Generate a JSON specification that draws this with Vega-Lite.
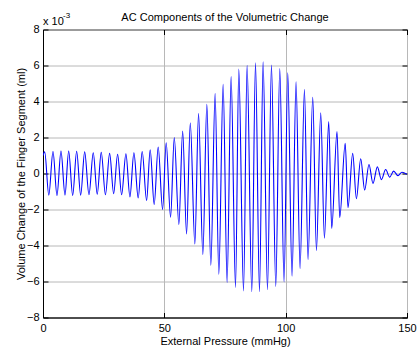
{
  "$schema": "https://vega.github.io/schema/vega-lite/v6.json",
  "autosize": {"type": "none"},
  "width": 364,
  "height": 288,
  "padding": {"left": 43, "top": 29.5, "right": 13, "bottom": 31.5},
  "background": "white",
  "config": {
    "font": "Liberation Sans",
    "view": {"stroke": "black", "strokeWidth": 1},
    "axis": {
      "domainColor": "black",
      "domainWidth": 1,
      "tickColor": "black",
      "tickWidth": 1,
      "labelColor": "black",
      "labelFont": "Liberation Sans",
      "labelFontSize": 11,
      "titleFont": "Liberation Sans",
      "titleFontSize": 11,
      "titleFontWeight": "normal",
      "titleColor": "black",
      "gridColor": "#b8b8b8",
      "gridWidth": 1
    }
  },
  "title": {
    "text": "AC Components of the Volumetric Change",
    "font": "Liberation Sans",
    "fontSize": 11,
    "fontWeight": "normal",
    "color": "black",
    "anchor": "middle",
    "frame": "group",
    "offset": -11
  },
  "data": {
    "values": [
      {"p": 0, "v": 1.0},
      {"p": 0.70, "v": 1.2},
      {"p": 2.39, "v": -1.2},
      {"p": 4.12, "v": 1.22},
      {"p": 5.76, "v": -1.22},
      {"p": 7.41, "v": 1.25},
      {"p": 9.06, "v": -1.2},
      {"p": 10.58, "v": 1.25},
      {"p": 12.23, "v": -1.22},
      {"p": 13.87, "v": 1.24},
      {"p": 15.52, "v": -1.2},
      {"p": 17.17, "v": 1.2},
      {"p": 18.94, "v": -1.18},
      {"p": 20.71, "v": 1.15},
      {"p": 22.35, "v": -1.15},
      {"p": 24.0, "v": 1.18},
      {"p": 25.73, "v": -1.18},
      {"p": 27.46, "v": 1.12},
      {"p": 29.11, "v": -1.12},
      {"p": 30.75, "v": 1.07},
      {"p": 32.4, "v": -1.18},
      {"p": 34.17, "v": 1.1},
      {"p": 35.82, "v": -1.3},
      {"p": 37.46, "v": 1.15},
      {"p": 39.23, "v": -1.36},
      {"p": 40.88, "v": 1.22},
      {"p": 42.69, "v": -1.5},
      {"p": 44.17, "v": 1.32},
      {"p": 45.82, "v": -1.72},
      {"p": 47.47, "v": 1.47},
      {"p": 49.28, "v": -2.0},
      {"p": 50.76, "v": 1.71},
      {"p": 52.57, "v": -2.43},
      {"p": 54.1, "v": 2.0},
      {"p": 55.99, "v": -2.84},
      {"p": 57.55, "v": 2.36},
      {"p": 59.16, "v": -3.36},
      {"p": 60.7, "v": 2.82},
      {"p": 62.58, "v": -3.92},
      {"p": 64.1, "v": 3.33},
      {"p": 65.87, "v": -4.5},
      {"p": 67.52, "v": 3.84},
      {"p": 69.16, "v": -5.1},
      {"p": 70.93, "v": 4.44},
      {"p": 72.46, "v": -5.6},
      {"p": 74.23, "v": 4.95},
      {"p": 75.87, "v": -6.05},
      {"p": 77.52, "v": 5.38},
      {"p": 79.33, "v": -6.33},
      {"p": 80.69, "v": 5.8},
      {"p": 82.63, "v": -6.52},
      {"p": 84.11, "v": 6.01},
      {"p": 86.04, "v": -6.56},
      {"p": 87.57, "v": 6.15},
      {"p": 89.21, "v": -6.56},
      {"p": 90.7, "v": 6.2},
      {"p": 92.51, "v": -6.45},
      {"p": 94.15, "v": 6.03},
      {"p": 95.92, "v": -6.27},
      {"p": 97.57, "v": 5.83},
      {"p": 99.34, "v": -6.02},
      {"p": 100.86, "v": 5.6},
      {"p": 102.63, "v": -5.7},
      {"p": 104.28, "v": 5.1},
      {"p": 105.93, "v": -5.28},
      {"p": 107.74, "v": 4.67},
      {"p": 109.22, "v": -4.78},
      {"p": 111.16, "v": 4.24},
      {"p": 112.68, "v": -4.28},
      {"p": 114.45, "v": 3.37},
      {"p": 115.97, "v": -3.6},
      {"p": 117.74, "v": 2.88},
      {"p": 118.98, "v": -3.05},
      {"p": 121.16, "v": 2.33},
      {"p": 122.27, "v": -2.45},
      {"p": 124.54, "v": 1.68},
      {"p": 125.69, "v": -1.9},
      {"p": 127.62, "v": 1.12},
      {"p": 129.15, "v": -1.4},
      {"p": 130.92, "v": 0.82},
      {"p": 132.56, "v": -0.92},
      {"p": 134.33, "v": 0.5},
      {"p": 135.98, "v": -0.55},
      {"p": 137.79, "v": 0.37},
      {"p": 139.44, "v": -0.34},
      {"p": 141.21, "v": 0.22},
      {"p": 142.86, "v": -0.2},
      {"p": 144.5, "v": 0.13},
      {"p": 146.27, "v": -0.12},
      {"p": 147.92, "v": 0.07},
      {"p": 150, "v": -0.05}
    ]
  },
  "layer": [
    {
      "mark": {"type": "line", "color": "#0000ff", "strokeWidth": 1.1, "interpolate": "monotone", "clip": true},
      "encoding": {
        "x": {
          "field": "p",
          "type": "quantitative",
          "scale": {"domain": [0, 150], "nice": false, "zero": false},
          "axis": {
            "values": [0, 50, 100, 150],
            "grid": true,
            "tickSize": -5,
            "labelPadding": 10,
            "labelFlush": false,
            "title": "External Pressure (mmHg)",
            "titlePadding": 2
          }
        },
        "y": {
          "field": "v",
          "type": "quantitative",
          "scale": {"domain": [-8, 8], "nice": false, "zero": false},
          "axis": {
            "values": [-8, -6, -4, -2, 0, 2, 4, 6, 8],
            "grid": true,
            "tickSize": -5,
            "labelPadding": 9,
            "title": "Volume Change of the Finger Segment (ml)",
            "titlePadding": 0
          }
        }
      }
    },
    {
      "mark": {"type": "line", "strokeOpacity": 0},
      "encoding": {
        "x": {
          "field": "p",
          "type": "quantitative",
          "axis": {"orient": "top", "values": [0, 50, 100, 150], "labels": false, "title": null, "grid": false, "domain": false, "tickSize": -5}
        },
        "y": {
          "field": "v",
          "type": "quantitative",
          "axis": {"orient": "right", "values": [-8, -6, -4, -2, 0, 2, 4, 6, 8], "labels": false, "title": null, "grid": false, "domain": false, "tickSize": -5}
        }
      }
    },
    {
      "data": {"values": [{"p": 0, "v": 8, "t": "x 10"}]},
      "mark": {"type": "text", "align": "left", "baseline": "alphabetic", "dy": -5, "fontSize": 11, "font": "Liberation Sans", "color": "black"},
      "encoding": {
        "x": {"field": "p", "type": "quantitative", "axis": null},
        "y": {"field": "v", "type": "quantitative", "axis": null},
        "text": {"field": "t"}
      }
    },
    {
      "data": {"values": [{"p": 0, "v": 8, "t": "-3"}]},
      "mark": {"type": "text", "align": "left", "baseline": "alphabetic", "dx": 20, "dy": -12, "fontSize": 8, "font": "Liberation Sans", "color": "black"},
      "encoding": {
        "x": {"field": "p", "type": "quantitative", "axis": null},
        "y": {"field": "v", "type": "quantitative", "axis": null},
        "text": {"field": "t"}
      }
    }
  ],
  "resolve": {"axis": {"x": "independent", "y": "independent"}}
}
